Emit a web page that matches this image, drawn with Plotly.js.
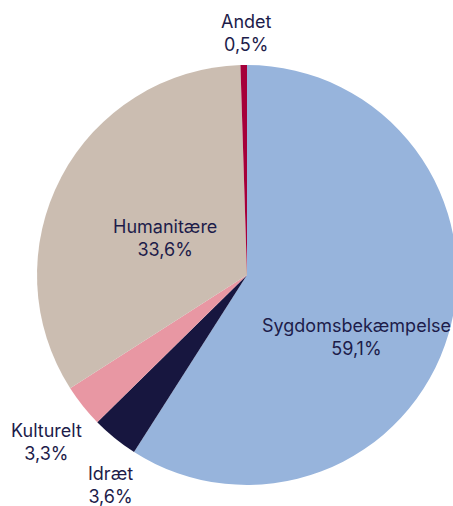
<!DOCTYPE html>
<html>
<head>
<meta charset="utf-8">
<script src="https://cdn.plot.ly/plotly-3.0.1.min.js"></script>
<style>
  html, body { margin: 0; padding: 0; background: #fff; overflow: hidden; }
  #chart { width: 460px; height: 506px; }
</style>
</head>
<body>
<div id="chart"></div>
<script>
"use strict";

const labels = ["Sygdomsbekæmpelse", "Idræt", "Kulturelt", "Humanitære", "Andet"];
const values = [59.1, 3.6, 3.3, 33.6, 0.5];
const colors = ["#97b4dc", "#17163f", "#e897a3", "#cbbdb1", "#a5003a"];

// label anchor spots in paper units, one per slice
const labelX = [0.776, 0.241, 0.100, 0.359, 0.535];
const labelY = [0.334, 0.0415, 0.1265, 0.530, 0.935];

const fmt = v => v.toFixed(1).replace(".", ",") + "%";

// the plot is a few px wider than the window so the pie can run off the right edge
const trace = {
  type: "pie",
  labels: labels,
  values: values,
  sort: false,
  direction: "clockwise",
  rotation: 0,
  textinfo: "none",
  hoverinfo: "label+percent",
  marker: { colors: colors, line: { width: 0 } },
  domain: { x: [0.0804, 0.9935], y: [0.0415, 0.8715] },
};

const annotations = labels.map((l, i) => ({
  xref: "paper", yref: "paper",
  x: labelX[i], y: labelY[i],
  xanchor: "center", yanchor: "middle",
  text: l + "<br>" + fmt(values[i]),
  showarrow: false,
  font: { family: "Inter, 'Open Sans', sans-serif", size: 18, color: "#1d1c4a" },
}));

const layout = {
  width: 460,
  height: 506,
  margin: { l: 0, r: 0, t: 0, b: 0 },
  showlegend: false,
  paper_bgcolor: "#fff",
  annotations: annotations,
};

Plotly.newPlot("chart", [trace], layout, { displayModeBar: false, staticPlot: true });
</script>
</body>
</html>
